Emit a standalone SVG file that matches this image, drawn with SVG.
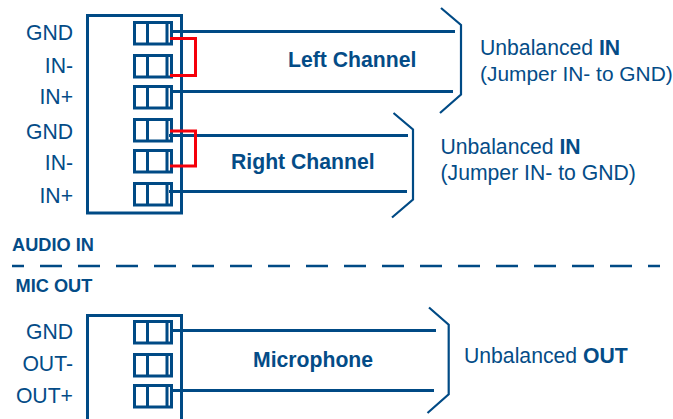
<svg xmlns="http://www.w3.org/2000/svg" width="673" height="419" viewBox="0 0 673 419">
<style>
text{font-family:"Liberation Sans",Arial,Helvetica,sans-serif;fill:#044c87;font-size:21.2px}
.p{text-anchor:end}
.b{font-weight:700}
.h{font-weight:700;font-size:18.2px}
.n{font-size:20.9px}
.box,.t,.w,.br,.j,.d{fill:none}
.box,.t,.w{stroke:#004a85;stroke-width:3}
.i{stroke:#004a85;stroke-width:3;fill:none}
.br{stroke:#004a85;stroke-width:2.2}
.j{stroke:#f5000a;stroke-width:3}
.d{stroke:#004a85;stroke-width:2.5;stroke-dasharray:22 16;stroke-dashoffset:10}
</style>
<defs>
<g id="term"><rect class="t" x="134.5" y="0" width="37" height="21.5"/><path class="i" d="M147.500 0V21.500M167 0V21.500"/></g>
</defs>
<rect width="673" height="419" fill="#fff"/>
<g id="audio-in-block">
<rect class="box" x="87.5" y="15.5" width="94" height="197.5"/>
<use href="#term" y="22.5"/><use href="#term" y="55.5"/><use href="#term" y="86.5"/><use href="#term" y="119.5"/><use href="#term" y="150.5"/><use href="#term" y="183.5"/>
<text class="p" x="73" y="39.5">GND</text><text class="p" x="73" y="73">IN-</text><text class="p" x="73" y="103.5">IN+</text><text class="p" x="73" y="138.5">GND</text><text class="p" x="73" y="170">IN-</text><text class="p" x="73" y="202.5">IN+</text>
</g>
<g id="mic-out-block">
<rect class="box" x="87.5" y="315.5" width="94" height="110"/>
<use href="#term" y="321.5"/><use href="#term" y="354.5"/><use href="#term" y="385.5"/>
<text class="p" x="73" y="338.5">GND</text><text class="p" x="73" y="371">OUT-</text><text class="p" x="73" y="402.5">OUT+</text>
</g>
<g id="connectors">
<path class="w" d="M170 31.5H455M170 91.5H453M169 135.5H408M169 191.5H407M170 330.5H436M170 390.5H434"/>
<path class="j" d="M170 38.5H195.500V75.500H170M170 131H195.500V166H170"/>
<path class="br" d="M441 8L461 25V94.500L440 113M393.500 113L413 129.500V199.500L392 217.500M429 307.500L448.700 324.700V394.300L427.500 413"/>
<path class="d" d="M12 266H660"/>
</g>
<g id="labels">
<text class="b" x="288" y="67">Left Channel</text>
<text class="b" x="231" y="169">Right Channel</text>
<text class="b" x="253" y="367">Microphone</text>
<text class="h" x="12" y="251">AUDIO IN</text>
<text class="h" x="15.500" y="292">MIC OUT</text>
<text x="480" y="55">Unbalanced <tspan class="b">IN</tspan></text>
<text class="n" x="480" y="81">(Jumper IN- to GND)</text>
<text x="440.500" y="154">Unbalanced <tspan class="b">IN</tspan></text>
<text x="440.500" y="180">(Jumper IN- to GND)</text>
<text x="464" y="363">Unbalanced <tspan class="b">OUT</tspan></text>
</g>
</svg>
